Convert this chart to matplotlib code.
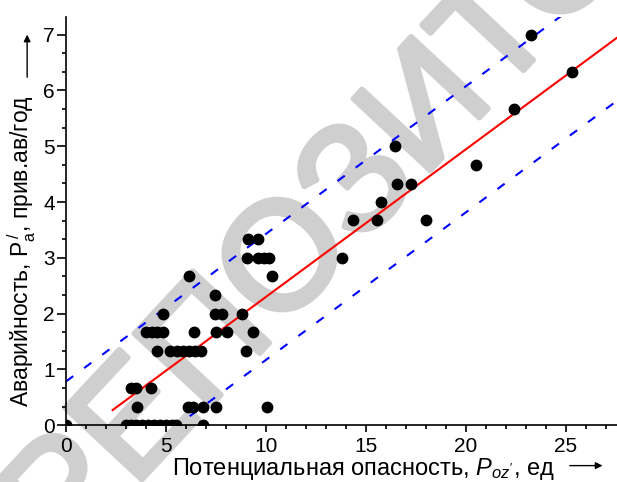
import numpy as np
import matplotlib
matplotlib.use("Agg")
import matplotlib.pyplot as plt
import matplotlib.patheffects as pe
from matplotlib.ticker import MultipleLocator

plt.rcParams['font.family'] = ['Liberation Sans', 'DejaVu Sans']
plt.rcParams['mathtext.fontset'] = 'custom'
plt.rcParams['mathtext.rm'] = 'Liberation Sans'
plt.rcParams['mathtext.it'] = 'Liberation Sans:italic'

# potential hazard (x) vs accident rate (y)
pot = [0.0, 3.0, 3.25, 3.5, 3.8, 4.1, 4.4, 4.7, 5.0, 5.3, 5.5, 6.87,
       3.53, 6.12, 6.33, 6.87, 7.48, 10.03,
       3.23, 3.5, 4.23,
       4.53, 5.2, 5.53, 5.85, 6.15, 6.45, 6.75, 9.0,
       4.0, 4.3, 4.55, 4.87, 6.42, 7.48, 8.03, 9.33,
       4.87, 7.45, 7.82, 8.82,
       7.45,
       6.15, 10.3,
       9.03, 9.62, 9.92, 10.15, 13.82,
       9.08, 9.62,
       14.33, 15.53, 18.0,
       15.75,
       16.55, 17.27,
       20.48,
       16.45,
       22.42,
       25.32,
       23.23]
acc = [0, 0, 0, 0, 0, 0, 0, 0, 0, 0, 0, 0,
       0.33, 0.33, 0.33, 0.33, 0.33, 0.33,
       0.67, 0.67, 0.67,
       1.33, 1.33, 1.33, 1.33, 1.33, 1.33, 1.33, 1.33,
       1.67, 1.67, 1.67, 1.67, 1.67, 1.67, 1.67, 1.67,
       2.0, 2.0, 2.0, 2.0,
       2.33,
       2.67, 2.67,
       3.0, 3.0, 3.0, 3.0, 3.0,
       3.33, 3.33,
       3.67, 3.67, 3.67,
       4.0,
       4.33, 4.33,
       4.67,
       5.0,
       5.67,
       6.33,
       7.0]

# regression line and band
slope = 0.2647
intercept = -0.347
band = 1.13
fit_start = 2.33

fig = plt.figure(figsize=(6.17, 4.82), dpi=100)
ax = fig.add_axes([0.107, 0.118, 0.893, 0.847])
ax.patch.set_visible(False)

fig.text(0.745, 0.712, "РЕПОЗИТОРИЙ", rotation=47, rotation_mode='anchor',
         ha='center', va='baseline', fontsize=110, color='#cfcfcf', zorder=-1,
         path_effects=[pe.withStroke(linewidth=4, foreground='#cfcfcf')])

xmax = 27.55
xs = np.array([fit_start, xmax])
ax.plot(xs, slope * xs + intercept, color='red', lw=1.5, zorder=2)
xb = np.array([0, xmax])
ax.plot(xb, slope * xb + intercept + band, color='blue', lw=1.5,
        dashes=(4.3, 6.5), zorder=2)
ax.plot(xb, slope * xb + intercept - band, color='blue', lw=1.5,
        dashes=(4.3, 6.5), zorder=2)
ax.plot(pot, acc, 'o', color='black', ms=7.5, zorder=3)

ax.set_xlim(0, xmax)
ax.set_ylim(0, 7.32)
ax.xaxis.set_major_locator(MultipleLocator(5))
ax.xaxis.set_minor_locator(MultipleLocator(1))
ax.yaxis.set_major_locator(MultipleLocator(1))
ax.yaxis.set_minor_locator(MultipleLocator(1 / 3))
ax.spines['top'].set_visible(False)
ax.spines['right'].set_visible(False)
for s in ('left', 'bottom'):
    ax.spines[s].set_linewidth(1.2)
ax.tick_params(axis='x', which='major', length=4.8, width=1.2, labelsize=15, pad=4)
ax.tick_params(axis='y', which='major', length=6.7, width=1.2, labelsize=15, pad=1.5)
ax.tick_params(which='minor', length=3.1, width=1.2)

fig.text(172 / 617, 0.0145, r"Потенциальная опасность, $P_{oz'}$, ед",
         ha='left', va='baseline', fontsize=17)
fig.text(0.036, 0.156, r"Аварийность, $\mathrm{P_a^{\,/}}$, прив.ав/год",
         ha='center', va='bottom', rotation=90, fontsize=16.5)

# axis arrows
ax.annotate('', xy=(0.981, 0.034), xytext=(0.919, 0.034),
            xycoords='figure fraction',
            arrowprops=dict(arrowstyle='-|>', color='black', lw=1, mutation_scale=10))
ax.annotate('', xy=(0.044, 0.934), xytext=(0.044, 0.834),
            xycoords='figure fraction',
            arrowprops=dict(arrowstyle='-|>', color='black', lw=1, mutation_scale=10))

fig.savefig("out.png", dpi=100)
